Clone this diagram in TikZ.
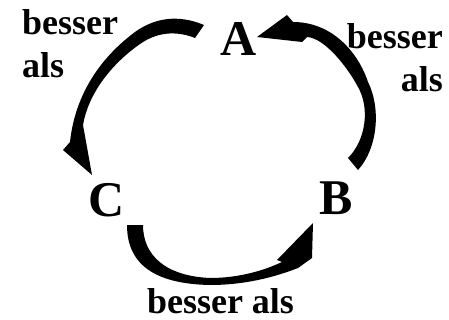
\documentclass[tikz,border=0pt]{standalone}
\usepackage{fontspec}
\setmainfont{Liberation Serif}
\begin{document}
\begin{tikzpicture}[x=1pt,y=-1pt,
  letter/.style={inner sep=0pt,font=\fontsize{50}{50}\selectfont\bfseries},
  lbl/.style={inner sep=0pt,font=\fontsize{36}{43}\selectfont\bfseries},
  bigarrow/.style={fill=black,draw=none}]
\useasboundingbox (0,0) rectangle (449,320);
% letters
\node[letter] (A) at (238.5,38.5) {A};
\node[letter] (C) at (107,200) {C};
\node[letter] (B) at (336,198) {B};
% labels
\node[lbl,align=left,anchor=base west] (lAC) at (22,78) {besser\\als};
\node[lbl,align=right,anchor=base east] (lBA) at (443,92) {besser\\als};
\node[lbl,anchor=base] (lCB) at (220.5,313) {besser als};
% arrow A -> C
\fill[bigarrow] (204,25) .. controls (185,17) and (160,14) .. (135,32)
  .. controls (100,58) and (75,95) .. (70,142)
  -- (63,150) -- (92,175) -- (83,125)
  .. controls (88,95) and (110,65) .. (140,44)
  .. controls (160,30) and (180,32) .. (195,38) -- cycle;
% arrow B -> A
\fill[bigarrow] (358,170) .. controls (378,148) and (381,108) .. (368,82)
  .. controls (358,52) and (332,22) .. (293,22)
  -- (287,15) -- (257,37) -- (302,42) -- (307,37)
  .. controls (325,38) and (348,68) .. (358,87)
  .. controls (370,108) and (366,140) .. (348,158) -- cycle;
% arrow C -> B
\fill[bigarrow] (127,225) .. controls (127,268) and (160,284) .. (210,285)
  .. controls (245,285) and (275,277) .. (298,268)
  -- (312,258) -- (313,223) -- (277,260) -- (282,262)
  .. controls (265,270) and (240,278) .. (210,278)
  .. controls (165,276) and (143,255) .. (143,225) -- cycle;
\end{tikzpicture}
\end{document}
